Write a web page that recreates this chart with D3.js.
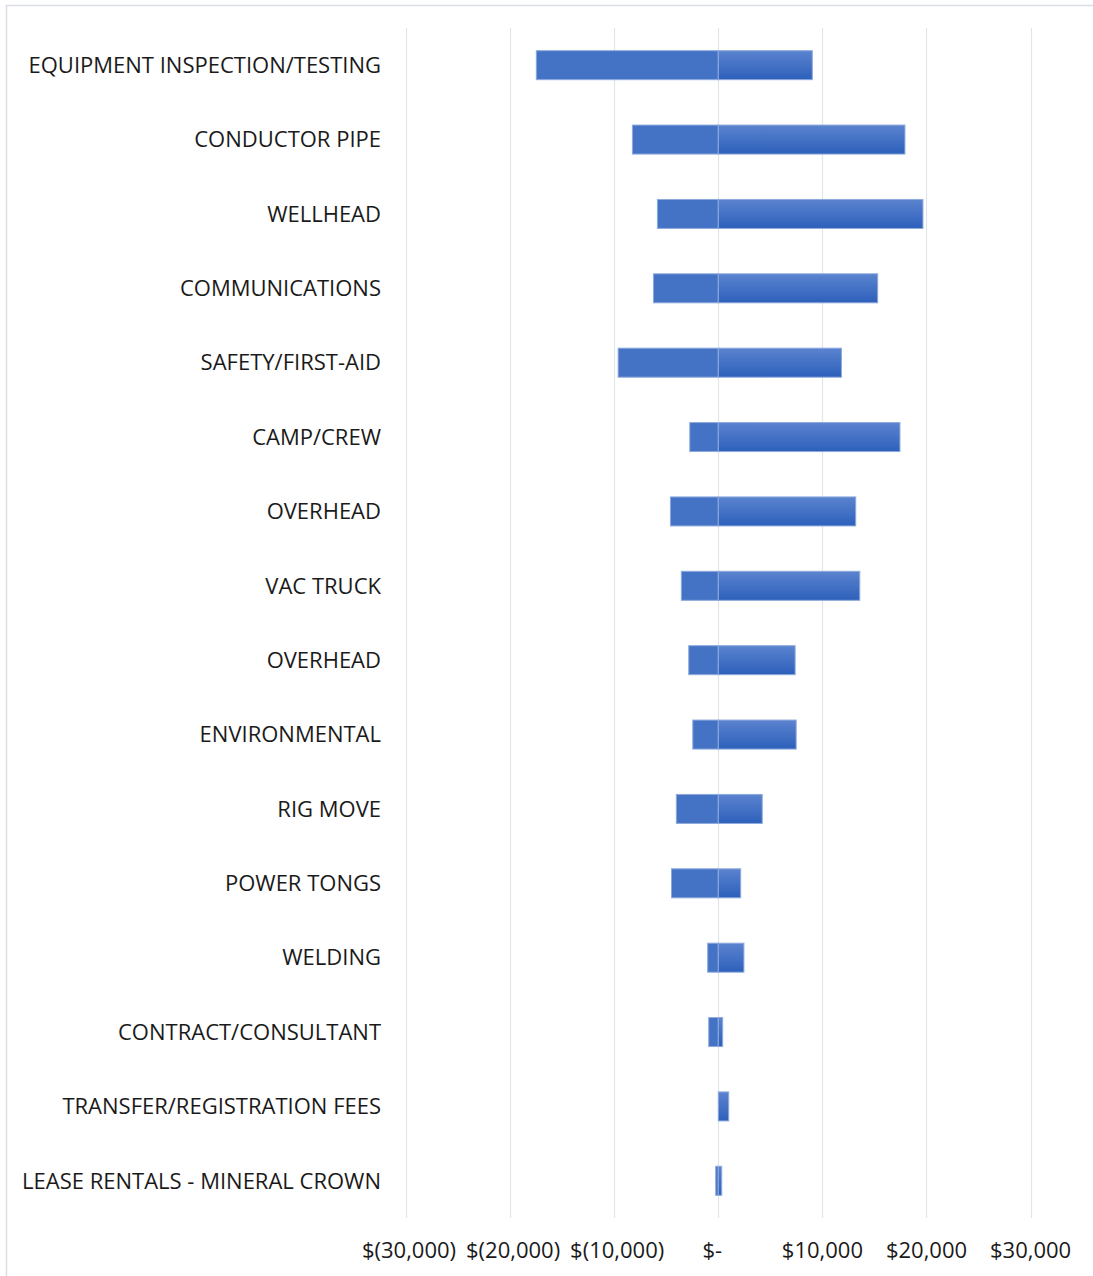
<!DOCTYPE html>
<html>
<head>
<meta charset="utf-8">
<script src="https://cdn.jsdelivr.net/npm/d3@7"></script>
<style>
  html, body { margin: 0; padding: 0; background: #ffffff; }
  svg { display: block; }
  text { font-family: "Open Sans", "Noto Sans", sans-serif; fill: #1a1a1a; }
</style>
</head>
<body>
<svg id="chart" width="1093" height="1276"></svg>
<script>
const categories = [
  "EQUIPMENT INSPECTION/TESTING",
  "CONDUCTOR PIPE",
  "WELLHEAD",
  "COMMUNICATIONS",
  "SAFETY/FIRST-AID",
  "CAMP/CREW",
  "OVERHEAD",
  "VAC TRUCK",
  "OVERHEAD",
  "ENVIRONMENTAL",
  "RIG MOVE",
  "POWER TONGS",
  "WELDING",
  "CONTRACT/CONSULTANT",
  "TRANSFER/REGISTRATION FEES",
  "LEASE RENTALS - MINERAL CROWN"
];
const negValues = [-17480, -8250, -5850, -6230, -9620, -2740, -4600, -3550, -2840, -2450, -4030, -4500, -1020, -920, 0, -250];
const posValues = [9030, 17930, 19660, 15310, 11830, 17450, 13200, 13590, 7380, 7480, 4220, 2150, 2460, 420, 1000, 330];
const tickValues = [-30000, -20000, -10000, 0, 10000, 20000, 30000];
const tickLabels = ["$(30,000)", "$(20,000)", "$(10,000)", "$-", "$10,000", "$20,000", "$30,000"];

const svg = d3.select("#chart");

const defs = svg.append("defs");
const grad = defs.append("linearGradient").attr("id", "posGrad")
  .attr("x1", 0).attr("y1", 0).attr("x2", 0).attr("y2", 1);
grad.append("stop").attr("offset", "0%").attr("stop-color", "#5b83cf");
grad.append("stop").attr("offset", "100%").attr("stop-color", "#2d60bb");

// outer border
svg.append("rect")
  .attr("x", 6.5).attr("y", 5.5)
  .attr("width", 1200).attr("height", 1400)
  .attr("fill", "none").attr("stroke", "#d9dde5").attr("stroke-width", 1.5);

const x = d3.scaleLinear().domain([-30000, 30000]).range([406, 1030.6]);
const idx = categories.map((d, i) => i);
const y = d3.scaleBand().domain(idx).range([28, 1218]).paddingInner(0.61).paddingOuter(0.305);

// gridlines
svg.append("g").selectAll("line").data(tickValues).join("line")
  .attr("x1", d => Math.round(x(d)) + 0.5).attr("x2", d => Math.round(x(d)) + 0.5)
  .attr("y1", 28).attr("y2", 1218)
  .attr("stroke", "#e1e4ea").attr("stroke-width", 1.2);

// negative bars
svg.append("g").selectAll("rect").data(idx).join("rect")
  .attr("x", i => x(Math.min(0, negValues[i])))
  .attr("y", i => y(i))
  .attr("width", i => Math.abs(x(negValues[i]) - x(0)))
  .attr("height", y.bandwidth())
  .attr("fill", "#4472c4")
  .attr("stroke", "#8eaadc").attr("stroke-width", 1)
  .attr("display", i => negValues[i] === 0 ? "none" : null);

// positive bars
svg.append("g").selectAll("rect").data(idx).join("rect")
  .attr("x", x(0))
  .attr("y", i => y(i))
  .attr("width", i => x(posValues[i]) - x(0))
  .attr("height", y.bandwidth())
  .attr("fill", "url(#posGrad)")
  .attr("stroke", "#8eaadc").attr("stroke-width", 1);

// category labels
svg.append("g").selectAll("text").data(idx).join("text")
  .attr("x", 381)
  .attr("y", i => y(i) + y.bandwidth() / 2)
  .attr("dy", "0.35em")
  .attr("text-anchor", "end")
  .attr("font-size", 22)
  .text(i => categories[i]);

// x tick labels
svg.append("g").selectAll("text").data(tickValues).join("text")
  .attr("x", d => x(d) + (d === 0 ? -6 : (d < 0 ? 3 : 0)))
  .attr("y", 1250)
  .attr("dy", "0.35em")
  .attr("text-anchor", "middle")
  .attr("font-size", 22)
  .text((d, i) => tickLabels[i]);
</script>
</body>
</html>
